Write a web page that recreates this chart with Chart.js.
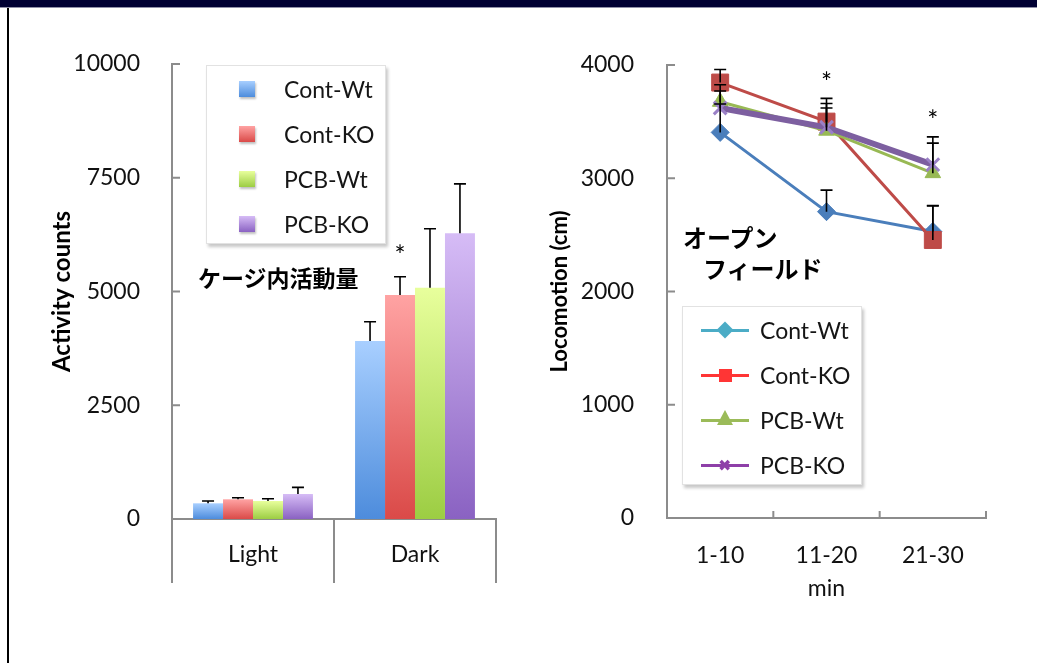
<!DOCTYPE html>
<html>
<head>
<meta charset="utf-8">
<script src="https://cdn.jsdelivr.net/npm/chart.js@4.4.1/dist/chart.umd.min.js"></script>
<style>
body { margin:0; width:1037px; height:663px; overflow:hidden; background:#fff; position:relative; font-family:Lato, "Open Sans", sans-serif; }
#band { position:absolute; left:0; top:0; width:1037px; height:7px; background:#000033; border-bottom:1px solid #9090a8; }
#edge { position:absolute; left:7px; top:8px; width:2px; height:655px; background:#000; }
#wrapL { position:absolute; left:0; top:0; width:520px; height:663px; }
#wrapR { position:absolute; left:520px; top:0; width:517px; height:663px; }
.legend { position:absolute; width:178px; height:177px; background:#fff; border:1px solid #e2e2e2; box-shadow:2px 3px 3px rgba(0,0,0,0.22); }
.item { position:absolute; left:77px; height:30px; line-height:30px; font-size:23px; color:#151515; white-space:nowrap; }
.note { position:absolute; font-family:"Noto Sans CJK JP"; font-weight:bold; color:#000; white-space:nowrap; line-height:30px; }
</style>
</head>
<body>
<div id="band"></div>
<div id="edge"></div>
<div id="wrapL"><canvas id="activityChart" width="520" height="663"></canvas></div>
<div id="wrapR"><canvas id="locoChart" width="517" height="663"></canvas></div>
<div class="legend" id="legendL" style="left:206px;top:65px;"></div>
<div class="legend" id="legendR" style="left:682px;top:306px;"></div>
<div class="note" style="left:198px;top:262px;font-size:23px;">ケージ内活動量</div>
<div class="note" style="left:683px;top:222px;font-size:24px;">オープン</div>
<div class="note" style="left:703px;top:253px;font-size:24px;">フィールド</div>
<script>
// cage activity (bars)
var groups = ["Light", "Dark"];
var series = ["Cont-Wt", "Cont-KO", "PCB-Wt", "PCB-KO"];
var activity = [[345, 3910], [433, 4925], [396, 5085], [549, 6280]];
var activityErr = [[50, 425], [35, 400], [50, 1295], [147, 1085]];
var activityStar = [[false, false], [false, true], [false, false], [false, false]];
var activityTicks = [0, 2500, 5000, 7500, 10000];

// open field (lines)
var minutes = ["1-10", "11-20", "21-30"];
var locomotion = [[3405, 2705, 2530], [3845, 3500, 2455], [3675, 3420, 3045], [3620, 3450, 3120]];
var locomotionErr = [[250, 190, 230], [115, 205, 300], [150, 240, 265], [150, 170, 245]];
var locomotionStar = [[false, false, false], [false, true, false], [false, false, false], [false, false, true]];
var locomotionTicks = [0, 1000, 2000, 3000, 4000];

var barColors = [["#a8cfff", "#4d8cdc"], ["#ffa3a3", "#da4a48"], ["#e8ff9c", "#9ccd43"], ["#d6bcf6", "#8a62c2"]];
var lineColors = ["#4a7ebb", "#be4b48", "#98b954", "#7d5fa0"];
var pointStyles = ["rectRot", "rect", "triangle", "crossRot"];
var pointSizes = [9, 12, 9, 9];
var legendLineColors = ["#4bacc6", "#ff3535", "#9bbb59", "#8e3fa8"];

var axisGray = "#8c8c8c";
var tickFont = { family: "Lato", size: 23 };

function plain(v) { return String(v); }

function barFill(cols) {
    return function(c) {
        var chart = c.chart;
        if (!chart.chartArea || c.type !== "data") return cols[1];
        var y = chart.scales.y;
        var top = y.getPixelForValue(c.raw), base = y.getPixelForValue(0);
        if (!isFinite(top) || top === base) return cols[1];
        var g = chart.ctx.createLinearGradient(0, top, 0, base);
        g.addColorStop(0, cols[0]);
        g.addColorStop(1, cols[1]);
        return g;
    };
}

// upward error bars + significance stars
var errorBars = {
    id: "errorBars",
    afterDatasetsDraw: function(chart, args, opts) {
        var ctx = chart.ctx, y = chart.scales.y;
        ctx.save();
        ctx.strokeStyle = "#000";
        ctx.fillStyle = "#000";
        ctx.lineWidth = opts.width;
        ctx.font = "26px Lato";
        ctx.textAlign = "center";
        ctx.textBaseline = "middle";
        chart.data.datasets.forEach(function(ds, i) {
            var meta = chart.getDatasetMeta(i);
            meta.data.forEach(function(el, j) {
                var base = y.getPixelForValue(ds.data[j]);
                var top = y.getPixelForValue(ds.data[j] + ds.errors[j]);
                ctx.beginPath();
                ctx.moveTo(el.x, base);
                ctx.lineTo(el.x, top);
                ctx.moveTo(el.x - opts.cap, top);
                ctx.lineTo(el.x + opts.cap, top);
                ctx.stroke();
                if (ds.stars[j]) ctx.fillText("*", el.x, top - opts.starGap);
            });
        });
        ctx.restore();
    }
};

// excel-like tick marks pointing into the plot
var insideTicks = {
    id: "insideTicks",
    afterDraw: function(chart, args, opts) {
        var ctx = chart.ctx, ya = chart.scales.y, xa = chart.scales.x, a = chart.chartArea;
        ctx.save();
        ctx.strokeStyle = axisGray;
        ctx.lineWidth = 2;
        ctx.beginPath();
        ya.ticks.forEach(function(t) {
            var p = ya.getPixelForValue(t.value);
            ctx.moveTo(a.left, p);
            ctx.lineTo(a.left + 8, p);
        });
        if (opts.xTicks) {
            for (var i = 1; i <= xa.ticks.length; i++) {
                var p = xa.getPixelForValue(i - 0.5);
                ctx.moveTo(p, a.bottom);
                ctx.lineTo(p, a.bottom - 7);
            }
        }
        ctx.stroke();
        ctx.restore();
    }
};

new Chart(document.getElementById("activityChart"), {
    type: "bar",
    data: {
        labels: groups,
        datasets: series.map(function(name, i) {
            return {
                label: name,
                data: activity[i],
                errors: activityErr[i],
                stars: activityStar[i],
                backgroundColor: barFill(barColors[i]),
                borderWidth: 0,
                categoryPercentage: 0.74,
                barPercentage: 1.0
            };
        })
    },
    options: {
        responsive: false,
        animation: false,
        layout: { padding: { top: 64, left: 0, right: 24, bottom: 0 } },
        plugins: {
            legend: { display: false },
            tooltip: { enabled: false },
            errorBars: { width: 1.6, cap: 6, starGap: 20 },
            insideTicks: { xTicks: false }
        },
        scales: {
            x: {
                afterFit: function(s) { s.height = 144; },
                border: { color: axisGray, width: 2 },
                grid: { offset: true, drawOnChartArea: false, tickLength: 64, color: axisGray, lineWidth: 2 },
                ticks: { font: tickFont, color: "#111", padding: -42 }
            },
            y: {
                min: 0, max: 10000,
                afterFit: function(s) { s.width = 172; },
                afterBuildTicks: function(s) { s.ticks = activityTicks.map(function(v) { return { value: v }; }); },
                border: { color: axisGray, width: 2 },
                grid: { display: false, drawTicks: false },
                ticks: { font: tickFont, color: "#111", padding: 32, callback: plain },
                title: { display: true, text: "Activity counts", color: "#000",
                         font: { family: "Lato", size: 24, weight: "bold" }, padding: { top: 48, bottom: 0 } }
            }
        }
    },
    plugins: [errorBars, insideTicks]
});

new Chart(document.getElementById("locoChart"), {
    type: "line",
    data: {
        labels: minutes,
        datasets: series.map(function(name, i) {
            var purple = i === 3;
            return {
                label: name,
                data: locomotion[i],
                errors: locomotionErr[i],
                stars: locomotionStar[i],
                order: 4 - i,
                borderColor: lineColors[i],
                backgroundColor: lineColors[i],
                borderWidth: purple ? 6 : 3,
                pointStyle: pointStyles[i],
                pointRadius: pointSizes[i],
                pointBorderColor: purple ? "#9a80c6" : lineColors[i],
                pointBackgroundColor: lineColors[i],
                pointBorderWidth: purple ? 3 : 1,
                tension: 0
            };
        })
    },
    options: {
        responsive: false,
        animation: false,
        layout: { padding: { top: 65, left: 0, right: 51, bottom: 0 } },
        plugins: {
            legend: { display: false },
            tooltip: { enabled: false },
            errorBars: { width: 1.6, cap: 6, starGap: 15 },
            insideTicks: { xTicks: true }
        },
        scales: {
            x: {
                offset: true,
                afterFit: function(s) { s.height = 145; },
                border: { color: axisGray, width: 2 },
                grid: { offset: true, drawOnChartArea: false, drawTicks: false },
                ticks: { font: tickFont, color: "#111", padding: 24 },
                title: { display: true, text: "min", color: "#111", font: tickFont, padding: { top: 0, bottom: 61 } }
            },
            y: {
                min: 0, max: 4000,
                afterFit: function(s) { s.width = 147; },
                afterBuildTicks: function(s) { s.ticks = locomotionTicks.map(function(v) { return { value: v }; }); },
                border: { color: axisGray, width: 2 },
                grid: { display: false, drawTicks: false },
                ticks: { font: tickFont, color: "#111", padding: 33, callback: plain },
                title: { display: true, text: "Locomotion (cm)", color: "#000",
                         font: { family: "Lato", size: 22, weight: "bold" }, padding: { top: 27, bottom: 0 } }
            }
        }
    },
    plugins: [errorBars, insideTicks]
});

// html legends
function buildLegend(id, draw) {
    var box = document.getElementById(id);
    series.forEach(function(name, i) {
        var mid = 23 + i * 45;
        draw(box, i, mid);
        var t = document.createElement("div");
        t.className = "item";
        t.style.top = (mid - 15) + "px";
        t.textContent = name;
        box.appendChild(t);
    });
}

buildLegend("legendL", function(box, i, mid) {
    var sq = document.createElement("div");
    sq.style.cssText = "position:absolute;left:32px;width:16px;height:16px;top:" + (mid - 8) + "px;" +
        "background:linear-gradient(" + barColors[i][0] + "," + barColors[i][1] + ");box-shadow:1px 2px 2px rgba(0,0,0,0.25);";
    box.appendChild(sq);
});

buildLegend("legendR", function(box, i, mid) {
    var c = legendLineColors[i];
    var ln = document.createElement("div");
    ln.style.cssText = "position:absolute;left:18px;width:48px;height:3px;top:" + (mid - 1) + "px;background:" + c + ";";
    box.appendChild(ln);
    var m = document.createElement("div");
    var css = "position:absolute;";
    if (i === 0) css += "left:36px;top:" + (mid - 6) + "px;width:12px;height:12px;background:" + c + ";transform:rotate(45deg);";
    if (i === 1) css += "left:36px;top:" + (mid - 6) + "px;width:13px;height:13px;background:" + c + ";";
    if (i === 2) css += "left:34px;top:" + (mid - 10) + "px;width:0;height:0;border-left:8px solid transparent;border-right:8px solid transparent;border-bottom:15px solid " + c + ";";
    if (i === 3) { css += "left:35px;top:" + (mid - 11) + "px;font-size:16px;line-height:22px;color:" + c + ";"; m.textContent = "\u2716"; }
    m.style.cssText = css;
    box.appendChild(m);
});
</script>
</body>
</html>
